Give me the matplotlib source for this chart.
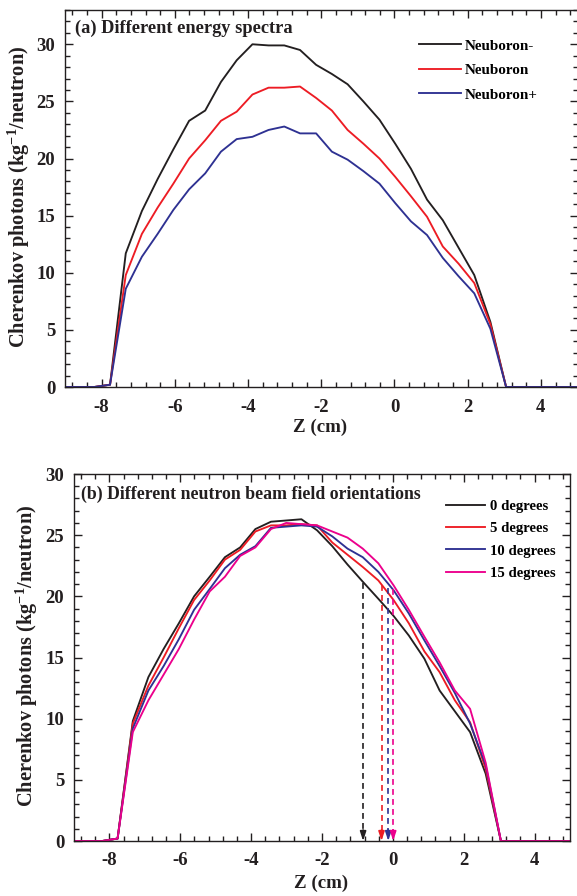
import matplotlib
matplotlib.use("Agg")
import matplotlib.pyplot as plt
from matplotlib.ticker import MultipleLocator

# ---------------- data ----------------
z = [-9.0, -8.2, -7.77, -7.34, -6.90, -6.47, -6.04, -5.61, -5.17, -4.74, -4.31,
     -3.88, -3.44, -3.01, -2.58, -2.14, -1.71, -1.28, -0.85, -0.41, 0.02, 0.45,
     0.89, 1.32, 1.75, 2.18, 2.62, 3.05, 5.0]

# panel (a)
neuboron_minus = [0, 0, 0.2, 11.7, 15.4, 18.2, 20.8, 23.3, 24.2, 26.7, 28.6,
                  30.0, 29.9, 29.9, 29.5, 28.2, 27.4, 26.5, 25.0, 23.4, 21.3, 19.1,
                  16.4, 14.6, 12.2, 9.8, 5.7, 0, 0]
neuboron = [0, 0, 0.2, 9.8, 13.4, 15.7, 17.8, 20.0, 21.6, 23.3, 24.1,
            25.6, 26.2, 26.2, 26.3, 25.3, 24.2, 22.5, 21.3, 20.0, 18.4, 16.7,
            14.9, 12.3, 10.8, 9.1, 5.5, 0, 0]
neuboron_plus = [0, 0, 0.2, 8.6, 11.4, 13.4, 15.5, 17.3, 18.7, 20.6, 21.7,
                 21.9, 22.5, 22.8, 22.2, 22.2, 20.6, 19.9, 18.9, 17.8, 16.1, 14.5,
                 13.3, 11.3, 9.7, 8.2, 5.1, 0, 0]
labels_a = ["Neuboron-", "Neuboron", "Neuboron+"]

# panel (b)
deg0 = [0, 0, 0.2, 9.8, 13.4, 15.7, 17.8, 20.0, 21.6, 23.2, 24.0,
        25.5, 26.1, 26.2, 26.3, 25.4, 24.1, 22.6, 21.2, 19.8, 18.4, 16.8,
        14.9, 12.3, 10.6, 8.9, 5.5, 0, 0]
deg5 = [0, 0, 0.2, 9.6, 12.7, 15.0, 17.4, 19.7, 21.3, 23.0, 23.8,
        25.3, 25.8, 25.8, 25.9, 25.8, 24.4, 23.4, 22.4, 21.3, 19.7, 17.8,
        15.5, 13.8, 11.5, 9.7, 5.9, 0, 0]
deg10 = [0, 0, 0.2, 9.2, 12.3, 14.3, 16.5, 18.9, 20.6, 22.3, 23.4,
         24.1, 25.6, 25.7, 25.8, 25.7, 24.9, 23.9, 23.2, 22.0, 20.5, 18.6,
         16.4, 14.3, 12.1, 9.6, 6.2, 0, 0]
deg15 = [0, 0, 0.2, 8.9, 11.5, 13.6, 15.7, 18.1, 20.4, 21.6, 23.3,
         24.0, 25.5, 26.0, 25.9, 25.8, 25.3, 24.8, 23.9, 22.7, 20.9, 18.9,
         16.7, 14.6, 12.3, 10.8, 6.4, 0, 0]
labels_b = ["0 degrees", "5 degrees", "10 degrees", "15 degrees"]

arrow_x = [-0.84, -0.32, -0.13, 0.01]
arrow_top = [21.1, 20.9, 20.7, 20.6]

# ---------------- style ----------------
plt.rcParams['font.family'] = ['Liberation Serif', 'DejaVu Serif']
plt.rcParams['font.weight'] = 'bold'
plt.rcParams['axes.unicode_minus'] = False
plt.rcParams['mathtext.fontset'] = 'custom'
plt.rcParams['mathtext.rm'] = 'Liberation Serif:bold'
plt.rcParams['mathtext.bf'] = 'Liberation Serif:bold'
plt.rcParams['mathtext.it'] = 'Liberation Serif:bold:italic'

BLACK = '#231f20'
RED = '#ed1c24'
BLUE = '#2e3192'
MAG = '#ec008c'

W, H = 577, 896
fig = plt.figure(figsize=(W / 100, H / 100), dpi=100)

def style_axes(ax, xpad, ypad):
    ax.set_xlim(-9, 5)
    ax.xaxis.set_major_locator(MultipleLocator(2))
    ax.xaxis.set_minor_locator(MultipleLocator(0.4))
    ax.yaxis.set_major_locator(MultipleLocator(5))
    ax.yaxis.set_minor_locator(MultipleLocator(1))
    ax.tick_params(which='both', direction='in', top=True, right=True,
                   width=1.0, colors=BLACK)
    ax.tick_params(which='major', length=6)
    ax.tick_params(which='minor', length=3.5)
    ax.tick_params(axis='x', which='major', pad=xpad, labelsize=13.5)
    ax.tick_params(axis='y', which='major', pad=ypad, labelsize=13.5)
    for s in ax.spines.values():
        s.set_linewidth(1.0)
        s.set_color(BLACK)
    for lab in ax.get_xticklabels() + ax.get_yticklabels():
        lab.set_fontweight('bold')

# ---------------- panel (a) ----------------
ax1 = fig.add_axes([65 / W, (H - 387) / H, 512.5 / W, 377 / H])
ax1.plot(z, neuboron_minus, color=BLACK, lw=1.35, label=labels_a[0])
ax1.plot(z, neuboron, color=RED, lw=1.35, label=labels_a[1])
ax1.plot(z, neuboron_plus, color=BLUE, lw=1.35, label=labels_a[2])
ax1.set_ylim(0, 33)
style_axes(ax1, 8.5, 7)
ax1.legend(loc='upper left', bbox_to_anchor=(419 / W, 1 - 39 / H),
           bbox_transform=fig.transFigure, frameon=False, borderpad=0,
           borderaxespad=0, handlelength=2.8, handletextpad=0.25,
           labelspacing=0.72, prop={'size': 10.9, 'weight': 'bold'})
fig.text(75 / W, 1 - 33 / H, "(a) Different energy spectra", fontsize=13.2,
         fontweight='bold', ha='left', va='baseline', color=BLACK)
fig.text(18.5 / W, 1 - 197 / H, r"Cherenkov photons (kg$^{\mathbf{-1}}$/neutron)",
         rotation=90, ha='center', va='center', fontsize=14.7,
         fontweight='bold', color=BLACK)
fig.text(320 / W, 1 - 427 / H, "Z (cm)", ha='center', va='center',
         fontsize=13.6, fontweight='bold', color=BLACK)

# ---------------- panel (b) ----------------
ax2 = fig.add_axes([74 / W, (H - 841) / H, 496 / W, 367 / H])
for vals, c, lab in zip([deg0, deg5, deg10, deg15], [BLACK, RED, BLUE, MAG], labels_b):
    ax2.plot(z, vals, color=c, lw=1.35, label=lab)
ax2.set_ylim(0, 30)
style_axes(ax2, 8.2, 7)
for xa, yt, c in zip(arrow_x, arrow_top, [BLACK, RED, BLUE, MAG]):
    ax2.plot([xa, xa], [yt, 0.6], color=c, lw=1.2, ls=(0, (3.5, 2.5)))
    ax2.annotate('', xy=(xa, 0), xytext=(xa, 0.9),
                 arrowprops=dict(arrowstyle='-|>,head_length=0.55,head_width=0.18',
                                 color=c, lw=1.2, shrinkA=0, shrinkB=0))
ax2.legend(loc='upper left', bbox_to_anchor=(446 / W, 1 - 500 / H),
           bbox_transform=fig.transFigure, frameon=False, borderpad=0,
           borderaxespad=0, handlelength=2.65, handletextpad=0.35,
           labelspacing=0.6, prop={'size': 10.6, 'weight': 'bold'})
fig.text(81 / W, 1 - 498.5 / H, "(b) Different neutron beam field orientations",
         fontsize=12.8, fontweight='bold', ha='left', va='baseline', color=BLACK)
fig.text(26.5 / W, 1 - 656 / H, r"Cherenkov photons (kg$^{\mathbf{-1}}$/neutron)",
         rotation=90, ha='center', va='center', fontsize=14.7,
         fontweight='bold', color=BLACK)
fig.text(321.5 / W, 1 - 883 / H, "Z (cm)", ha='center', va='center',
         fontsize=13.6, fontweight='bold', color=BLACK)

fig.savefig("out.png", dpi=100)
